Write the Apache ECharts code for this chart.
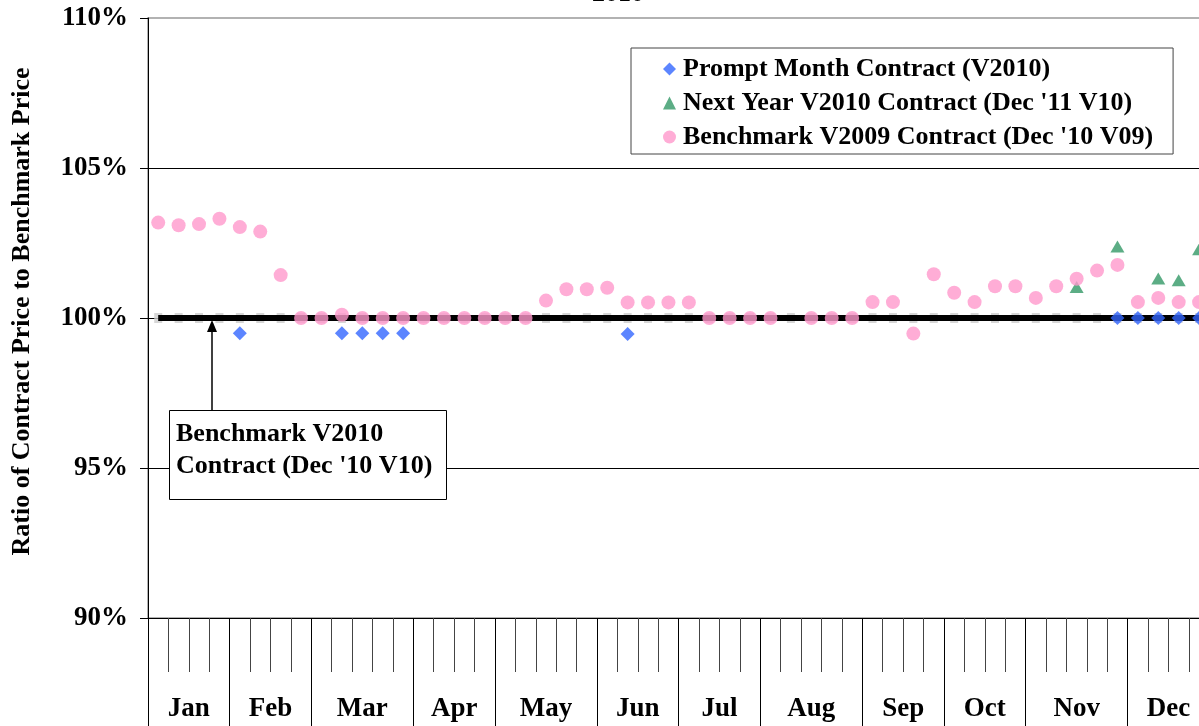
<!DOCTYPE html>
<html>
<head>
<meta charset="utf-8">
<script src="https://cdn.jsdelivr.net/npm/echarts@6/dist/echarts.min.js"></script>
<style>
  html, body { margin: 0; padding: 0; background: #fff; }
  #chart { width: 1199px; height: 726px; }
</style>
</head>
<body>
<div id="chart"></div>
<script>
// month layout of the weekly axis
var months = ['Jan', 'Feb', 'Mar', 'Apr', 'May', 'Jun', 'Jul', 'Aug', 'Sep', 'Oct', 'Nov', 'Dec'];
var weeksPerMonth = [4, 4, 5, 4, 5, 4, 4, 5, 4, 4, 5, 4];

// ratio to benchmark price, in %, one value per week (null = no point)
var benchmarkV2010 = [
    100, 100, 100, 100, 100, 100, 100, 100, 100, 100, 100, 100, 100,
    100, 100, 100, 100, 100, 100, 100, 100, 100, 100, 100, 100, 100,
    100, 100, 100, 100, 100, 100, 100, 100, 100, 100, 100, 100, 100,
    100, 100, 100, 100, 100, 100, 100, 100, 100, 100, 100, 100, 100
];
var benchmarkV2009 = [
    103.18, 103.09, 103.13, 103.31, 103.03, 102.88, 101.43, 100, 100, 100.11, 100, 100, 100,
    100, 100, 100, 100, 100, 100, 100.58, 100.96, 100.96, 101.01, 100.52, 100.52, 100.52,
    100.52, 100, 100, 100, 100, null, 100, 100, 100, 100.53, 100.53, 99.48, 101.46,
    100.84, 100.53, 101.06, 101.06, 100.67, 101.06, 101.31, 101.58, 101.77, 100.53, 100.67, 100.53, 100.53
];
var promptMonth = [
    null, null, null, null, 99.49, null, null, null, null, 99.49, 99.49, 99.49, 99.49,
    null, null, null, null, null, null, null, null, null, null, 99.47, null, null,
    null, null, null, null, null, null, null, null, null, null, null, null, null,
    null, null, null, null, null, null, null, null, 100, 100, 100, 100, 100
];
var nextYear = [
    null, null, null, null, null, null, null, null, null, null, null, null, null,
    null, null, null, null, null, null, null, null, null, null, null, null, null,
    null, null, null, null, null, null, null, null, null, null, null, null, null,
    null, null, null, null, null, null, 101.03, null, 102.38, null, 101.32, 101.26, 102.29
];

var weeks = [];
var monthEdges = [0];
var monthCenters = [];
var pos = 0;
for (var m = 0; m < months.length; m++) {
    for (var w = 0; w < weeksPerMonth[m]; w++) {
        weeks.push(months[m] + ' W' + (w + 1));
    }
    monthCenters.push(pos + weeksPerMonth[m] / 2);
    pos += weeksPerMonth[m];
    monthEdges.push(pos);
}

var FONT = '"Liberation Serif", "Times New Roman", serif';
var FS = 26;      // legend, titles, note
var FS_AXIS = 27; // tick labels
var chart = echarts.init(document.getElementById('chart'), null, { renderer: 'canvas' });

chart.setOption({
    animation: false,
    backgroundColor: '#fff',
    title: {
        text: '2010',
        left: 618,
        textAlign: 'center',
        top: -19,
        padding: 0,
        textStyle: { fontFamily: FONT, fontWeight: 'bold', fontSize: FS, color: '#000' }
    },
    grid: {
        left: 148,
        top: 18,
        right: -10.3,
        height: 600,
        outerBoundsMode: 'none',
        containLabel: false,
        show: true,
        borderColor: '#999',
        borderWidth: 1.5,
        backgroundColor: 'transparent'
    },
    legend: {
        orient: 'vertical',
        left: 631,
        top: 48,
        padding: [8, 20, 4, 32],
        itemGap: 8,
        itemWidth: 13,
        itemHeight: 13,
        borderColor: '#444',
        borderWidth: 1,
        backgroundColor: '#fff',
        textStyle: { fontFamily: FONT, fontWeight: 'bold', fontSize: FS, color: '#000', padding: [0, 0, 0, 2] },
        data: [
            { name: 'Prompt Month Contract (V2010)', icon: 'diamond' },
            { name: "Next Year V2010 Contract (Dec '11 V10)", icon: 'triangle' },
            { name: "Benchmark V2009 Contract (Dec '10 V09)", icon: 'circle' }
        ]
    },
    xAxis: [
        {
            type: 'category',
            data: weeks,
            boundaryGap: true,
            position: 'bottom',
            axisLine: { show: true, lineStyle: { color: '#000', width: 1 } },
            axisTick: { show: true, length: 54, interval: 0, lineStyle: { color: '#444', width: 1 } },
            axisLabel: { show: false },
            splitLine: { show: false }
        },
        {
            type: 'value',
            min: 0,
            max: weeks.length,
            position: 'bottom',
            axisLine: { show: false },
            axisTick: { show: true, length: 115, customValues: monthEdges, lineStyle: { color: '#000', width: 1 } },
            axisLabel: {
                show: true,
                customValues: monthCenters,
                margin: 78,
                fontFamily: FONT,
                fontWeight: 'bold',
                fontSize: FS_AXIS,
                color: '#000',
                formatter: function (v) {
                    for (var i = 0; i < monthCenters.length; i++) {
                        if (Math.abs(monthCenters[i] - v) < 1e-6) return months[i];
                    }
                    return '';
                }
            },
            splitLine: { show: false }
        }
    ],
    yAxis: {
        type: 'value',
        min: 90,
        max: 110,
        interval: 5,
        name: 'Ratio of Contract Price to Benchmark Price',
        nameLocation: 'middle',
        nameRotate: 90,
        nameGap: 113,
        nameTextStyle: { fontFamily: FONT, fontWeight: 'bold', fontSize: FS, color: '#000', padding: [0, 0, 0, 13] },
        axisLine: { show: true, lineStyle: { color: '#000', width: 1 } },
        axisTick: { show: true, length: 8, lineStyle: { color: '#000' } },
        axisLabel: {
            margin: 20,
            formatter: '{value}%',
            fontFamily: FONT,
            fontWeight: 'bold',
            fontSize: FS_AXIS,
            color: '#000'
        },
        splitLine: { show: true, showMaxLine: false, lineStyle: { color: '#000', width: 1 } }
    },
    graphic: [
        {
            type: 'line',
            shape: { x1: 212, y1: 411, x2: 212, y2: 330 },
            style: { stroke: '#000', lineWidth: 1.5 },
            z: 100
        },
        {
            type: 'polygon',
            shape: { points: [[212, 320], [207, 332], [217, 332]] },
            style: { fill: '#000' },
            z: 100
        },
        {
            type: 'rect',
            shape: { x: 169.5, y: 410.5, width: 277, height: 89 },
            style: { fill: '#fff', stroke: '#000', lineWidth: 1 },
            z: 100
        },
        {
            type: 'text',
            left: 176,
            top: 418,
            style: {
                text: "Benchmark V2010\nContract (Dec '10 V10)",
                font: 'bold ' + FS + 'px ' + FONT,
                lineHeight: 32,
                fill: '#000'
            },
            z: 101
        }
    ],
    series: [
        {
            name: 'Benchmark V2010 marks',
            type: 'scatter',
            data: benchmarkV2010,
            symbol: 'rect',
            symbolSize: [8, 10],
            itemStyle: { color: '#cccccc' },
            silent: true,
            z: 1
        },
        {
            name: 'Benchmark V2010 Contract (Dec \'10 V10)',
            type: 'line',
            data: benchmarkV2010,
            showSymbol: false,
            symbol: 'none',
            lineStyle: { color: '#000', width: 6 },
            z: 2
        },
        {
            name: 'Prompt Month Contract (V2010)',
            type: 'scatter',
            data: promptMonth,
            symbol: 'diamond',
            symbolSize: 14,
            itemStyle: { color: '#3366ff' },
            z: 3
        },
        {
            name: "Next Year V2010 Contract (Dec '11 V10)",
            type: 'scatter',
            data: nextYear,
            symbol: 'triangle',
            symbolSize: [14, 12],
            itemStyle: { color: '#339966' },
            z: 4
        },
        {
            name: "Benchmark V2009 Contract (Dec '10 V09)",
            type: 'scatter',
            data: benchmarkV2009,
            symbol: 'circle',
            symbolSize: 14,
            itemStyle: { color: '#ff99cc' },
            z: 5
        }
    ]
});
</script>
</body>
</html>
